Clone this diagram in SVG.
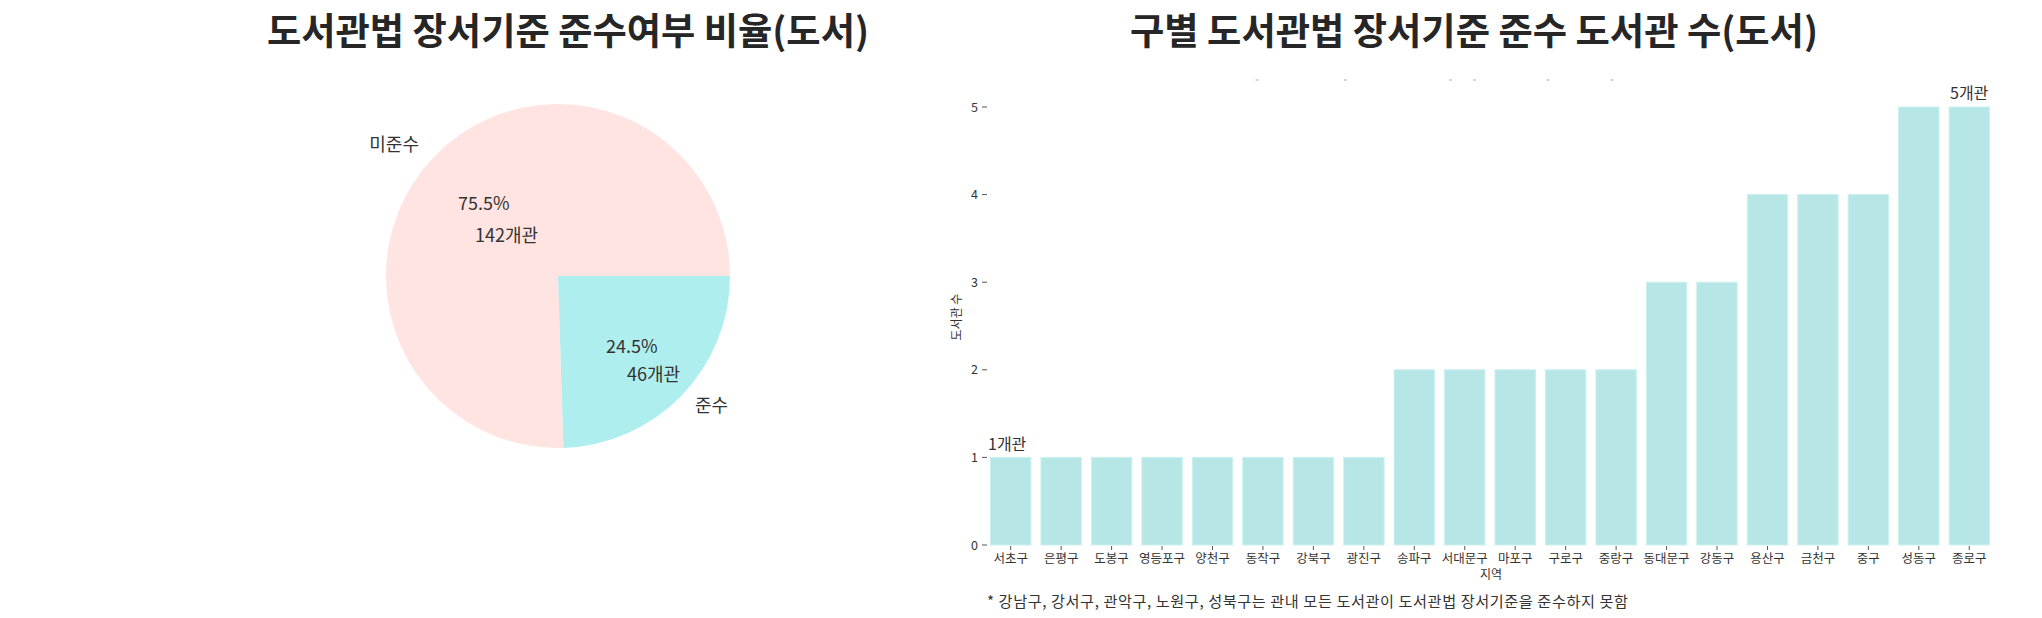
<svg xmlns="http://www.w3.org/2000/svg" width="2042" height="618" viewBox="0 0 2042 618">
<style>
text{font-family:"Noto Sans CJK KR","Noto Sans",sans-serif;fill:#333}
.title{font-size:37px;font-weight:700;fill:#262626;text-anchor:middle}
.plab{font-size:18px;fill:#333}
.bar{fill:#B7E6E6;stroke:#CBF1F1;stroke-width:1}
.tick{stroke:#555;stroke-width:1}
.ytl{font-size:12.5px;text-anchor:end}
.xtl{font-size:12.5px;text-anchor:middle}
.ann{font-size:16px;fill:#333}
.dot{fill:#aaa}
</style>
<rect width="2042" height="618" fill="#fff"/>

<g id="pie-chart">
  <text class="title" x="568" y="45" textLength="602" lengthAdjust="spacingAndGlyphs">도서관법 장서기준 준수여부 비율(도서)</text>
  <g id="slice-noncompliant">
    <path d="M558,276 L563.4,447.9 A172,172 0 1 1 730,276 Z" fill="#FFE4E1"/>
    <text class="plab" x="419" y="150.5" text-anchor="end">미준수</text>
    <text class="plab" x="458" y="210">75.5%</text>
    <text class="plab" x="475" y="242">142개관</text>
  </g>
  <g id="slice-compliant">
    <path d="M558,276 L730,276 A172,172 0 0 1 563.4,447.9 Z" fill="#AFEEEE"/>
    <text class="plab" x="606" y="353">24.5%</text>
    <text class="plab" x="627" y="381">46개관</text>
    <text class="plab" x="695" y="412">준수</text>
  </g>
</g>

<g id="bar-chart">
  <text class="title" x="1474" y="45" textLength="688" lengthAdjust="spacingAndGlyphs">구별 도서관법 장서기준 준수 도서관 수(도서)</text>
  <g id="top-marks">
    <rect class="dot" x="1255.5" y="79.5" width="3" height="1"/>
    <rect class="dot" x="1344" y="79.5" width="3" height="1"/>
    <rect class="dot" x="1449" y="79.5" width="3" height="1"/>
    <rect class="dot" x="1473" y="79.5" width="3" height="1"/>
    <rect class="dot" x="1546.5" y="79.5" width="3" height="1"/>
    <rect class="dot" x="1610.5" y="79.5" width="3" height="1"/>
  </g>
  <g id="y-axis">
    <line class="tick" x1="982" y1="545" x2="987" y2="545"/>
    <line class="tick" x1="982" y1="457.4" x2="987" y2="457.4"/>
    <line class="tick" x1="982" y1="369.8" x2="987" y2="369.8"/>
    <line class="tick" x1="982" y1="282.2" x2="987" y2="282.2"/>
    <line class="tick" x1="982" y1="194.6" x2="987" y2="194.6"/>
    <line class="tick" x1="982" y1="107" x2="987" y2="107"/>
    <text class="ytl" x="978" y="549.5">0</text>
    <text class="ytl" x="978" y="461.9">1</text>
    <text class="ytl" x="978" y="374.3">2</text>
    <text class="ytl" x="978" y="286.7">3</text>
    <text class="ytl" x="978" y="199.1">4</text>
    <text class="ytl" x="978" y="111.5">5</text>
    <text x="961" y="317" font-size="12" text-anchor="middle" transform="rotate(-90 961 317)">도서관 수</text>
  </g>
  <g id="bars">
    <rect class="bar" x="990.5" y="457.4" width="40.4" height="87.6"/>
    <rect class="bar" x="1040.95" y="457.4" width="40.4" height="87.6"/>
    <rect class="bar" x="1091.4" y="457.4" width="40.4" height="87.6"/>
    <rect class="bar" x="1141.85" y="457.4" width="40.4" height="87.6"/>
    <rect class="bar" x="1192.3" y="457.4" width="40.4" height="87.6"/>
    <rect class="bar" x="1242.75" y="457.4" width="40.4" height="87.6"/>
    <rect class="bar" x="1293.2" y="457.4" width="40.4" height="87.6"/>
    <rect class="bar" x="1343.65" y="457.4" width="40.4" height="87.6"/>
    <rect class="bar" x="1394.1" y="369.8" width="40.4" height="175.2"/>
    <rect class="bar" x="1444.55" y="369.8" width="40.4" height="175.2"/>
    <rect class="bar" x="1495" y="369.8" width="40.4" height="175.2"/>
    <rect class="bar" x="1545.45" y="369.8" width="40.4" height="175.2"/>
    <rect class="bar" x="1595.9" y="369.8" width="40.4" height="175.2"/>
    <rect class="bar" x="1646.35" y="282.2" width="40.4" height="262.8"/>
    <rect class="bar" x="1696.8" y="282.2" width="40.4" height="262.8"/>
    <rect class="bar" x="1747.25" y="194.6" width="40.4" height="350.4"/>
    <rect class="bar" x="1797.7" y="194.6" width="40.4" height="350.4"/>
    <rect class="bar" x="1848.15" y="194.6" width="40.4" height="350.4"/>
    <rect class="bar" x="1898.6" y="107" width="40.4" height="438"/>
    <rect class="bar" x="1949.05" y="107" width="40.4" height="438"/>
  </g>
  <g id="x-axis">
    <g class="tick">
      <line x1="1010.7" y1="546" x2="1010.7" y2="550"/>
      <line x1="1061.15" y1="546" x2="1061.15" y2="550"/>
      <line x1="1111.6" y1="546" x2="1111.6" y2="550"/>
      <line x1="1162.05" y1="546" x2="1162.05" y2="550"/>
      <line x1="1212.5" y1="546" x2="1212.5" y2="550"/>
      <line x1="1262.95" y1="546" x2="1262.95" y2="550"/>
      <line x1="1313.4" y1="546" x2="1313.4" y2="550"/>
      <line x1="1363.85" y1="546" x2="1363.85" y2="550"/>
      <line x1="1414.3" y1="546" x2="1414.3" y2="550"/>
      <line x1="1464.75" y1="546" x2="1464.75" y2="550"/>
      <line x1="1515.2" y1="546" x2="1515.2" y2="550"/>
      <line x1="1565.65" y1="546" x2="1565.65" y2="550"/>
      <line x1="1616.1" y1="546" x2="1616.1" y2="550"/>
      <line x1="1666.55" y1="546" x2="1666.55" y2="550"/>
      <line x1="1717" y1="546" x2="1717" y2="550"/>
      <line x1="1767.45" y1="546" x2="1767.45" y2="550"/>
      <line x1="1817.9" y1="546" x2="1817.9" y2="550"/>
      <line x1="1868.35" y1="546" x2="1868.35" y2="550"/>
      <line x1="1918.8" y1="546" x2="1918.8" y2="550"/>
      <line x1="1969.25" y1="546" x2="1969.25" y2="550"/>
    </g>
    <text class="xtl" x="1010.7" y="562.5">서초구</text>
    <text class="xtl" x="1061.15" y="562.5">은평구</text>
    <text class="xtl" x="1111.6" y="562.5">도봉구</text>
    <text class="xtl" x="1162.05" y="562.5">영등포구</text>
    <text class="xtl" x="1212.5" y="562.5">양천구</text>
    <text class="xtl" x="1262.95" y="562.5">동작구</text>
    <text class="xtl" x="1313.4" y="562.5">강북구</text>
    <text class="xtl" x="1363.85" y="562.5">광진구</text>
    <text class="xtl" x="1414.3" y="562.5">송파구</text>
    <text class="xtl" x="1464.75" y="562.5">서대문구</text>
    <text class="xtl" x="1515.2" y="562.5">마포구</text>
    <text class="xtl" x="1565.65" y="562.5">구로구</text>
    <text class="xtl" x="1616.1" y="562.5">중랑구</text>
    <text class="xtl" x="1666.55" y="562.5">동대문구</text>
    <text class="xtl" x="1717" y="562.5">강동구</text>
    <text class="xtl" x="1767.45" y="562.5">용산구</text>
    <text class="xtl" x="1817.9" y="562.5">금천구</text>
    <text class="xtl" x="1868.35" y="562.5">중구</text>
    <text class="xtl" x="1918.8" y="562.5">성동구</text>
    <text class="xtl" x="1969.25" y="562.5">종로구</text>
    <text x="1491" y="579" font-size="12" text-anchor="middle">지역</text>
  </g>
  <g id="annotations">
    <text class="ann" x="988" y="449.5">1개관</text>
    <text class="ann" x="1950" y="99">5개관</text>
  </g>
  <text id="footnote" x="987" y="607" font-size="15.2" textLength="641" lengthAdjust="spacing">* 강남구, 강서구, 관악구, 노원구, 성북구는 관내 모든 도서관이 도서관법 장서기준을 준수하지 못함</text>
</g>
<g id="connectors"/>
</svg>
